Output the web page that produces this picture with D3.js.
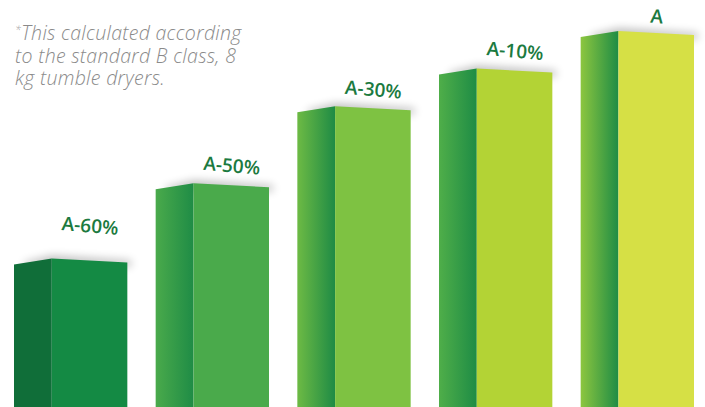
<!DOCTYPE html>
<html><head><meta charset="utf-8">
<script src="https://cdn.jsdelivr.net/npm/d3@7"></script>
<style>html,body{margin:0;padding:0;background:#fff;}svg{display:block;}</style>
</head><body>
<svg id="chart" width="705" height="407"></svg>
<script>
const categories = ["A-60%", "A-50%", "A-30%", "A-10%", "A"];
const values = [39.5, 59.5, 80, 90, 100];
const frontColors = ["#148a44", "#4aaa4b", "#7ec242", "#b3d335", "#d6e045"];
const sideLightColors = ["#106e39", "#4aaa4b", "#6dba44", "#4fae49", "#8dc63f"];
const sideDarkColors = ["#106e39", "#1f8c46", "#1e8b45", "#1e8c45", "#1e8c45"];
const labelLift = [26, 11, 10, 11, 8];
const noteLines = ["This calculated according", "to the standard B class, 8", "kg tumble dryers."];

const svg = d3.select("#chart");
const W = 705, H = 407;
const x = d3.scaleBand().domain(categories).range([14, 694]).paddingInner(0.2).paddingOuter(0);
const y = d3.scaleLinear().domain([0, 100]).range([H, 31]);

const defs = svg.append("defs");
defs.append("filter").attr("id", "blur").attr("x", "-20%").attr("y", "-200%").attr("width", "140%").attr("height", "500%")
  .append("feGaussianBlur").attr("stdDeviation", 4);
categories.forEach((c, i) => {
  const g = defs.append("linearGradient").attr("id", "side" + i).attr("x1", "0").attr("x2", "1").attr("y1", "0").attr("y2", "0");
  g.append("stop").attr("offset", "0").attr("stop-color", sideLightColors[i]);
  g.append("stop").attr("offset", "1").attr("stop-color", sideDarkColors[i]);
});

const sideFrac = 38 / 114;
const bars = svg.append("g").selectAll("g").data(categories).join("g");

bars.each(function(c, i) {
  const g = d3.select(this);
  const x0 = x(c), bw = x.bandwidth();
  const xm = x0 + bw * sideFrac, x1 = x0 + bw;
  const top = y(values[i]);
  g.append("path")
    .attr("d", `M${x0 + 10},${top + 4} L${xm},${top - 3} L${x1 + 4},${top + 2} L${x1 + 4},${top + 8} L${x0 + 10},${top + 8}Z`)
    .attr("fill", "#000").attr("opacity", 0.25).attr("filter", "url(#blur)");
  g.append("path")
    .attr("d", `M${x0},${top + 6} L${xm},${top} L${xm},${H} L${x0},${H}Z`)
    .attr("fill", `url(#side${i})`);
  g.append("path")
    .attr("d", `M${xm},${top} L${x1},${top + 4} L${x1},${H} L${xm},${H}Z`)
    .attr("fill", frontColors[i]);
  const lx = (xm + x1) / 2, ly = top - labelLift[i];
  g.append("text")
    .attr("transform", `translate(${lx},${ly}) rotate(5)`)
    .attr("text-anchor", "middle")
    .attr("font-family", "'Open Sans', sans-serif")
    .attr("font-weight", 600)
    .attr("font-size", 19)
    .attr("fill", "#1b7a40")
    .text(c);
});

const noteG = svg.append("g")
  .attr("font-family", "'Open Sans', sans-serif")
  .attr("font-style", "italic")
  .attr("font-weight", 300)
  .attr("font-size", 19.5)
  .attr("letter-spacing", 0.3)
  .attr("fill", "#8a8a8a");
noteLines.forEach((t, i) => {
  const tx = noteG.append("text").attr("x", 15).attr("y", 40 + i * 22.5);
  if (i === 0) {
    tx.append("tspan").attr("font-size", 11).attr("dy", -6).text("*");
    tx.append("tspan").attr("dy", 6).text(t);
  } else tx.text(t);
});
</script>
</body></html>
